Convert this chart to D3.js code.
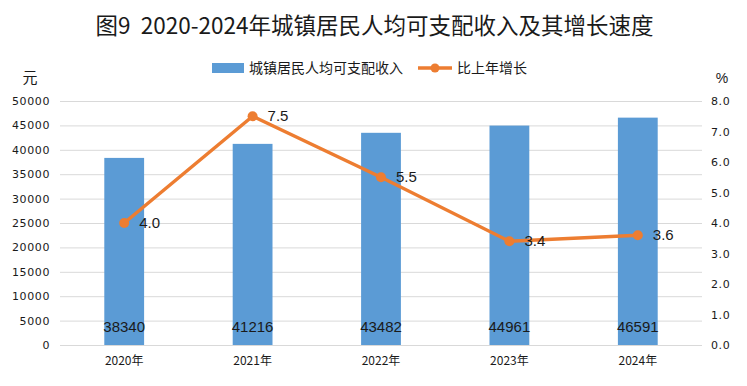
<!DOCTYPE html>
<html>
<head>
<meta charset="utf-8">
<script src="https://cdn.jsdelivr.net/npm/d3@7"></script>
<style>
  body { margin: 0; background: #fff; }
  svg { display: block; }
</style>
</head>
<body>
<div id="chart"></div>
<script>
// chart data
const years = ['2020年', '2021年', '2022年', '2023年', '2024年'];
const income = [38340, 41216, 43482, 44961, 46591];
const growth = [4.0, 7.5, 5.5, 3.4, 3.6];
const leftTicks = [0, 5000, 10000, 15000, 20000, 25000, 30000, 35000, 40000, 45000, 50000];
const rightTicks = [0, 1, 2, 3, 4, 5, 6, 7, 8];

const W = 747, H = 386;
const m = {top: 101, right: 45, bottom: 41, left: 60};
const iw = W - m.left - m.right;
const ih = H - m.top - m.bottom;

const blue = '#5b9bd5', orange = '#ed7d31';
const cjk = '"Noto Sans CJK SC", "Noto Sans", sans-serif';
const num = '"Liberation Sans", Arial, sans-serif';

const svg = d3.select('#chart').append('svg')
  .attr('width', W)
  .attr('height', H);

// title
svg.append('text')
  .attr('x', W / 2 + 1)
  .attr('y', 34)
  .attr('text-anchor', 'middle')
  .style('font-family', cjk)
  .style('font-size', '22.5px')
  .style('white-space', 'pre')
  .attr('fill', '#1a1a1a')
  .text('图9  2020-2024年城镇居民人均可支配收入及其增长速度');

// legend
const lg = svg.append('g').style('font-family', cjk).style('font-size', '14px');
lg.append('rect').attr('x', 212).attr('y', 63).attr('width', 32).attr('height', 10).attr('fill', blue);
lg.append('text').attr('x', 249).attr('y', 73).attr('fill', '#1a1a1a').text('城镇居民人均可支配收入');
lg.append('line').attr('x1', 418).attr('x2', 452).attr('y1', 68).attr('y2', 68)
  .attr('stroke', orange).attr('stroke-width', 3.5);
lg.append('circle').attr('cx', 435).attr('cy', 68).attr('r', 4.5).attr('fill', orange);
lg.append('text').attr('x', 457).attr('y', 73).attr('fill', '#1a1a1a').text('比上年增长');

// unit labels
svg.append('text').attr('x', 30).attr('y', 83).attr('text-anchor', 'middle')
  .style('font-family', cjk).style('font-size', '15px').attr('fill', '#1a1a1a').text('元');
svg.append('text').attr('x', 722).attr('y', 83).attr('text-anchor', 'middle')
  .style('font-family', num).style('font-size', '14px').attr('fill', '#1a1a1a').text('%');

const g = svg.append('g').attr('transform', `translate(${m.left},${m.top})`);

const x = d3.scaleBand().domain(years).range([0, iw]).paddingInner(0.69).paddingOuter(0.345);
const y = d3.scaleLinear().domain([0, 50000]).range([ih, 0]);
const y2 = d3.scaleLinear().domain([0, 8]).range([ih, 0]);

// gridlines
g.append('g')
  .selectAll('line')
  .data(leftTicks)
  .enter()
  .append('line')
  .attr('x1', 0)
  .attr('x2', iw)
  .attr('y1', d => y(d) + 0.5)
  .attr('y2', d => y(d) + 0.5)
  .attr('stroke', '#d9d9d9')
  .attr('stroke-width', 1);

// left axis
g.append('g')
  .call(d3.axisLeft(y).tickValues(leftTicks).tickFormat(d3.format('d')).tickSize(0).tickPadding(10))
  .call(a => a.select('.domain').remove())
  .selectAll('text')
  .style('font-family', '"DejaVu Sans", Verdana, sans-serif')
  .style('font-size', '11px')
  .style('letter-spacing', '0.6px')
  .attr('fill', '#1a1a1a');

// right axis
g.append('g')
  .attr('transform', `translate(${iw},0)`)
  .call(d3.axisRight(y2).tickValues(rightTicks).tickFormat(d3.format('.1f')).tickSize(0).tickPadding(9))
  .call(a => a.select('.domain').remove())
  .selectAll('text')
  .style('font-family', '"DejaVu Sans", Verdana, sans-serif')
  .style('font-size', '11px')
  .style('letter-spacing', '0.6px')
  .attr('fill', '#1a1a1a');

// bottom axis
g.append('g')
  .attr('transform', `translate(0,${ih})`)
  .call(d3.axisBottom(x).tickSize(0).tickPadding(11))
  .call(a => a.select('.domain').remove())
  .selectAll('text')
  .style('font-family', cjk)
  .style('font-size', '12px')
  .attr('fill', '#1a1a1a');

// bars
g.selectAll('.bar')
  .data(income)
  .enter()
  .append('rect')
  .attr('class', 'bar')
  .attr('x', (d, i) => x(years[i]))
  .attr('y', d => y(d))
  .attr('width', x.bandwidth())
  .attr('height', d => ih - y(d))
  .attr('fill', blue);

// bar value labels
g.selectAll('.barlabel')
  .data(income)
  .enter()
  .append('text')
  .attr('x', (d, i) => x(years[i]) + x.bandwidth() / 2)
  .attr('y', ih - 13)
  .attr('text-anchor', 'middle')
  .style('font-family', num)
  .style('font-size', '15px')
  .attr('fill', '#1a1a1a')
  .text(d => d);

// growth line
const cx = i => x(years[i]) + x.bandwidth() / 2;
const line = d3.line()
  .x((d, i) => cx(i))
  .y(d => y2(d));

g.append('path')
  .datum(growth)
  .attr('d', line)
  .attr('fill', 'none')
  .attr('stroke', orange)
  .attr('stroke-width', 3.5)
  .attr('stroke-linejoin', 'round');

g.selectAll('.dot')
  .data(growth)
  .enter()
  .append('circle')
  .attr('cx', (d, i) => cx(i))
  .attr('cy', d => y2(d))
  .attr('r', 5)
  .attr('fill', orange);

g.selectAll('.linelabel')
  .data(growth)
  .enter()
  .append('text')
  .attr('x', (d, i) => cx(i) + 15)
  .attr('y', d => y2(d) + 5)
  .style('font-family', num)
  .style('font-size', '15px')
  .attr('fill', '#1a1a1a')
  .text(d => d.toFixed(1));
</script>
</body>
</html>
